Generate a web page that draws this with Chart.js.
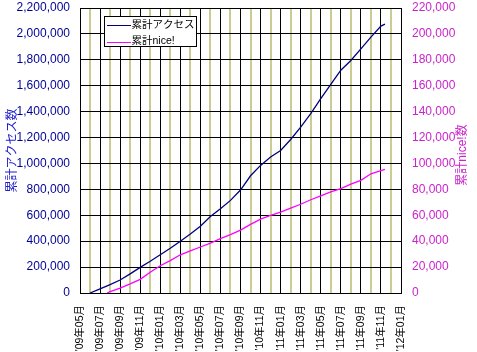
<!DOCTYPE html>
<html><head><meta charset="utf-8">
<script src="https://cdn.jsdelivr.net/npm/chart.js@4"></script>
<style>html,body{margin:0;padding:0;background:#fff;} canvas{display:block;}</style>
</head><body>
<canvas id="c" width="477" height="352"></canvas>
<script>
// x tick labels every 2 months, month index 0 = '09年05月
const tickLabels = ["'09年05月","'09年07月","'09年09月","'09年11月","'10年01月","'10年03月","'10年05月","'10年07月","'10年09月","'10年11月","'11年01月","'11年03月","'11年05月","'11年07月","'11年09月","'11年11月","'12年01月"];
// series: month index positions and cumulative values
const accessX = [1,2,3,4,5,6,7,8,9,10,11,12,13,14,15,16,17,18,19,20,21,22,23,24,25,26,27,28,29,30,30.4];
const accessValues = [0,32000,65000,100000,148000,198000,245000,295000,345000,400000,455000,515000,590000,650000,715000,795000,905000,985000,1050000,1100000,1185000,1280000,1385000,1500000,1610000,1720000,1795000,1885000,1975000,2060000,2075000];
const niceX = [2.7,3,4,5,6,7,8,9,10,11,12,13,14,15,16,17,18,19,20,21,22,23,24,25,26,27,28,29,30,30.4];
const niceValues = [0,1000,3800,7000,10500,16000,21000,25000,29500,32500,35500,38500,42000,45000,48500,53000,57000,60000,62500,65500,68500,72000,75000,78000,80500,84000,87000,92000,94500,95400];
const seriesNames = ["累計アクセス","累計nice!"];
const axisTitles = ["累計アクセス数","累計nice!数"];

const FAM = "'Liberation Sans','Noto Sans CJK JP',sans-serif";
const NAVY = '#000080', MAG = '#ff00ff', LEFTTXT = '#000099', RIGHTTXT = '#cc22cc';
const fmt = v => Math.round(v).toString().replace(/\B(?=(\d{3})+(?!\d))/g, ',');

const extras = {
  id: 'extras',
  afterDraw(chart) {
    const ctx = chart.ctx;
    ctx.save();
    // legend
    ctx.fillStyle = '#fff';
    ctx.fillRect(104.5, 16.5, 92, 30);
    ctx.strokeStyle = '#000';
    ctx.lineWidth = 1;
    ctx.strokeRect(104.5, 16.5, 92, 30);
    const rows = [[NAVY, 25], [MAG, 41.5]];
    ctx.font = "10.5px " + FAM;
    ctx.textBaseline = 'middle';
    ctx.textAlign = 'left';
    rows.forEach((r, i) => {
      ctx.strokeStyle = r[0];
      ctx.beginPath();
      ctx.moveTo(107, Math.round(r[1]) + 0.5);
      ctx.lineTo(131, Math.round(r[1]) + 0.5);
      ctx.stroke();
      ctx.fillStyle = '#000';
      ctx.fillText(seriesNames[i], 131.5, r[1]);
    });
    // right axis title, reading bottom to top
    ctx.translate(463, 155);
    ctx.rotate(-Math.PI / 2);
    ctx.textAlign = 'center';
    ctx.fillStyle = RIGHTTXT;
    ctx.font = "12px " + FAM;
    ctx.fillText(axisTitles[1], 0, 0);
    ctx.restore();
  }
};

new Chart(document.getElementById('c'), {
  type: 'line',
  data: {
    datasets: [
      { label: seriesNames[0], data: accessX.map((x, i) => ({x, y: accessValues[i]})), borderColor: NAVY, borderWidth: 1.3, pointRadius: 0, yAxisID: 'y', tension: 0 },
      { label: seriesNames[1], data: niceX.map((x, i) => ({x, y: niceValues[i]})), borderColor: MAG, borderWidth: 1.3, pointRadius: 0, yAxisID: 'y2', tension: 0 }
    ]
  },
  options: {
    responsive: false,
    animation: false,
    devicePixelRatio: 1,
    layout: { padding: { top: 8, left: 0, right: 0, bottom: 0 } },
    plugins: { legend: { display: false }, tooltip: { enabled: false } },
    scales: {
      x: {
        type: 'linear', min: 0, max: 32,
        afterFit: s => { s.height = 59; s.paddingLeft = 0; s.paddingRight = 0; },
        ticks: {
          stepSize: 1, autoSkip: false, maxRotation: 90, minRotation: 90, padding: 12,
          color: '#000', font: { family: FAM, size: 10.5 },
          callback: v => (v % 2 === 0 ? tickLabels[v / 2] : '')
        },
        grid: {
          drawTicks: false,
          color: c => (c.tick && c.tick.value % 2 === 0 ? '#000' : '#cbcb92'),
          lineWidth: c => (c.tick && c.tick.value % 2 === 0 ? 1 : 2)
        },
        border: { display: true, color: '#000', width: 1 }
      },
      y: {
        position: 'left', min: 0, max: 2200000,
        afterFit: s => { s.width = 80; s.paddingTop = 0; s.paddingBottom = 0; },
        ticks: { stepSize: 200000, padding: 10, color: LEFTTXT, font: { family: FAM, size: 12 }, callback: v => fmt(v) },
        grid: { drawTicks: false, color: '#000', lineWidth: 1 },
        border: { display: true, color: '#000', width: 1 },
        title: { display: true, text: axisTitles[0], color: '#1a1acc', font: { family: FAM, size: 12 }, padding: { top: 5, bottom: 0 } }
      },
      y2: {
        position: 'right', min: 0, max: 220000,
        afterFit: s => { s.width = 76; s.paddingTop = 0; s.paddingBottom = 0; },
        ticks: { stepSize: 20000, padding: 11, color: RIGHTTXT, font: { family: FAM, size: 12 }, callback: v => fmt(v) },
        grid: { display: false, drawTicks: false },
        border: { display: true, color: '#000', width: 1 }
      }
    }
  },
  plugins: [extras]
});
</script>
</body></html>
